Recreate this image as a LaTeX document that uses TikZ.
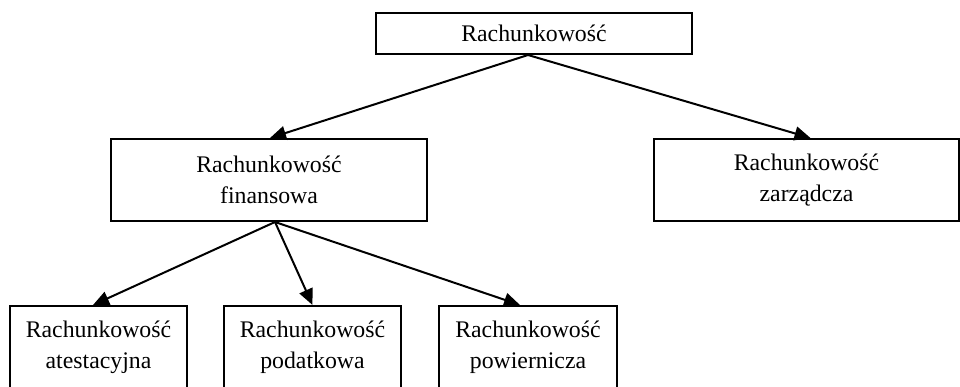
\documentclass[tikz,border=0pt]{standalone}
\usepackage{fontspec}
\setmainfont{Liberation Serif}
\usetikzlibrary{arrows.meta}
\begin{document}
\begin{tikzpicture}[x=1pt,y=-1pt,
  box/.style={draw, line width=2pt, inner sep=0pt, align=center,
    font=\fontsize{23.8}{31}\selectfont},
  arr/.style={line width=2pt, -{Triangle[length=16pt,width=14pt]}}]
\useasboundingbox (0,0) rectangle (960,386);
\clip (0,0) rectangle (960,386);
\node[box, minimum width=316pt, minimum height=41pt] (top) at (534,33.5) {Rachunkowość};
\node[box, minimum width=316pt, minimum height=82pt] (fin) at (269,180) {Rachunkowość\\finansowa};
\node[box, minimum width=305pt, minimum height=82pt] (zarz) at (806.5,180) {Rachunkowość\\zarządcza};
\node[box, minimum width=177pt, minimum height=82pt] (ate) at (98.5,347) {Rachunkowość\\atestacyjna};
\node[box, minimum width=177pt, minimum height=82pt] (pod) at (312.5,347) {Rachunkowość\\podatkowa};
\node[box, minimum width=178pt, minimum height=82pt] (pow) at (528,347) {Rachunkowość\\powiernicza};
\draw[arr] ([xshift=-6pt]top.south) -- ([xshift=1pt]fin.north);
\draw[arr] ([xshift=-6pt]top.south) -- ([xshift=4pt]zarz.north);
\draw[arr] ([xshift=6pt]fin.south) -- ([xshift=-5.5pt]ate.north);
\draw[arr] ([xshift=6pt]fin.south) -- (pod.north);
\draw[arr] ([xshift=6pt]fin.south) -- ([xshift=-8pt]pow.north);
\end{tikzpicture}
\end{document}
